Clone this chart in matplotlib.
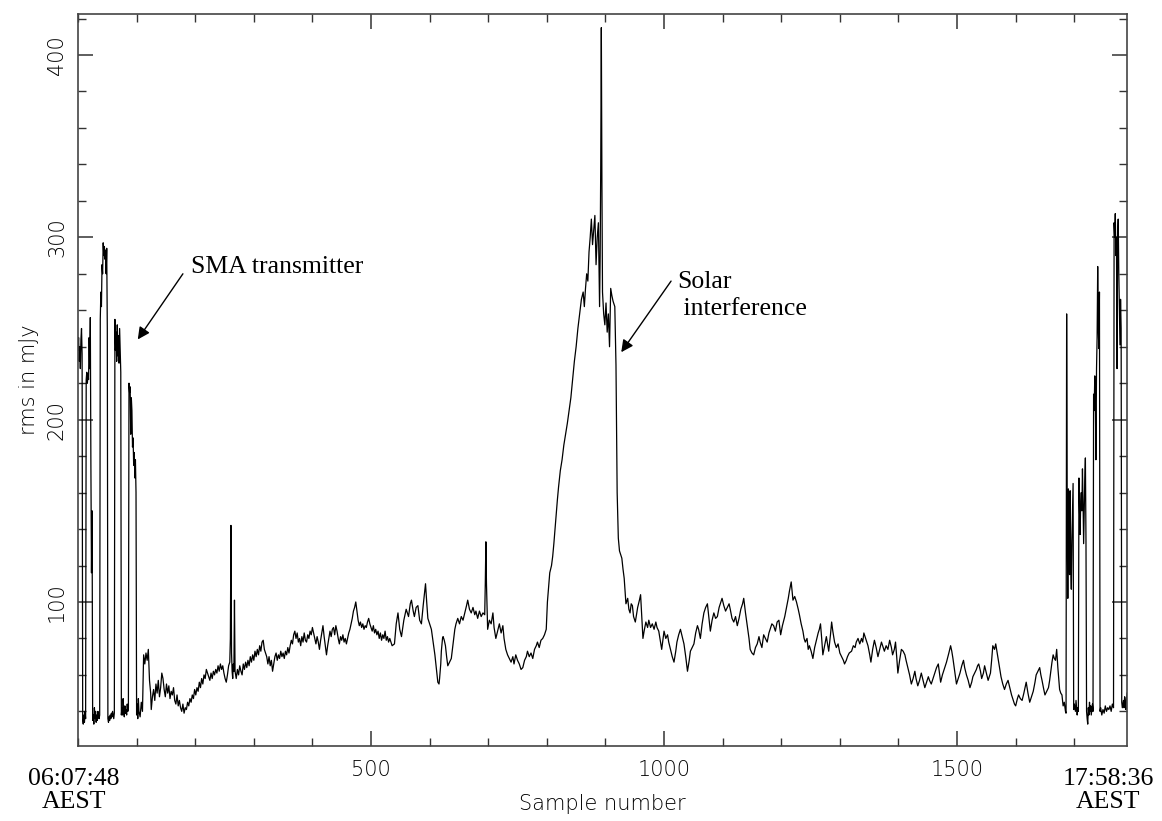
import matplotlib
matplotlib.use("Agg")
from matplotlib import pyplot as plt
from matplotlib.ticker import MultipleLocator
import numpy as np

# (sample, rms in mJy), segment by segment
sma_start = [
    (0, 238), (1, 245), (2, 232), (3, 240), (4, 228), (5, 244), (6, 250), (7, 236),
    (8, 35), (9, 33), (10, 38), (11, 34), (12, 40), (13, 36),
    (14, 222), (15, 226), (16, 220), (17, 225), (18, 222), (19, 245), (20, 228),
    (21, 256), (22, 175), (23, 116), (24, 150),
    (25, 35), (26, 38), (27, 33), (28, 42), (29, 36), (30, 40), (31, 34), (32, 38),
    (33, 35), (34, 40), (35, 37), (36, 36), (37, 38),
    (38, 255), (39, 270), (40, 262), (41, 285), (42, 280), (43, 297), (44, 290),
    (45, 295), (46, 288), (47, 293), (48, 280), (49, 294), (50, 250),
    (51, 36), (52, 34), (53, 37), (54, 35), (55, 38), (56, 36), (57, 39), (58, 37),
    (59, 40), (60, 38), (61, 36), (62, 39),
    (63, 255), (64, 238), (65, 248), (66, 232), (67, 252), (68, 235), (69, 246),
    (70, 231), (71, 250), (72, 238), (73, 226),
    (74, 38), (75, 42), (76, 38), (77, 47), (78, 40), (79, 37), (80, 43), (81, 39),
    (82, 41), (83, 38), (84, 44), (85, 40), (86, 42),
    (87, 220), (88, 215), (89, 218), (90, 192), (91, 212), (92, 205), (93, 185),
    (94, 190), (95, 175), (96, 182), (97, 168), (98, 178), (99, 160),
    (100, 38), (101, 44), (102, 36), (103, 47), (104, 40),
]

quiet_early = [
    (106, 37), (108, 45), (110, 40), (112, 71), (114, 66), (116, 72), (118, 68),
    (120, 74), (122, 57), (124, 50), (125, 41), (127, 48), (129, 52), (131, 46),
    (133, 55), (135, 50), (137, 57), (139, 48), (141, 53), (143, 61), (145, 58),
    (147, 52), (149, 48), (151, 55), (153, 50), (155, 54), (157, 47), (159, 51),
    (161, 49), (163, 53), (165, 46), (167, 44), (169, 49), (171, 43), (173, 46),
    (175, 42), (177, 40), (179, 44), (181, 39), (183, 42), (185, 41), (187, 45),
    (189, 43), (191, 47), (193, 45), (195, 49), (197, 47), (199, 52), (201, 49),
    (203, 53), (205, 51), (207, 56), (209, 53), (211, 58), (213, 55), (215, 60),
    (217, 58), (219, 63), (221, 61), (223, 59), (225, 57), (227, 61), (229, 58),
    (231, 62), (233, 60), (235, 63), (237, 61), (239, 65), (241, 62), (243, 66),
    (245, 63), (247, 65), (249, 61), (251, 58), (253, 56), (255, 60), (257, 65),
    (259, 67), (260, 80), (261, 142), (262, 72), (263, 62), (264, 58), (265, 66),
    (266, 62), (267, 101), (268, 62), (270, 58), (272, 63), (274, 60), (276, 65),
    (278, 62), (280, 60), (282, 66), (284, 63), (286, 67), (288, 64), (290, 68),
    (292, 65), (294, 70), (296, 67), (298, 71), (300, 68), (302, 73), (304, 70),
    (306, 74), (308, 71), (310, 76), (312, 73), (314, 78), (316, 79), (318, 74),
    (320, 72), (322, 70), (324, 66), (326, 70), (328, 65), (330, 68), (332, 62),
    (334, 66), (336, 70), (338, 72), (340, 68), (342, 71), (344, 69), (346, 73),
    (348, 70), (350, 72), (352, 69), (354, 73), (356, 71), (358, 75), (360, 72),
    (362, 76), (364, 79), (366, 77), (368, 82), (370, 84), (372, 80), (374, 83),
    (376, 78), (378, 80), (380, 76), (382, 81), (384, 78), (386, 83), (388, 79),
    (390, 78), (392, 82), (394, 80), (396, 84), (398, 82), (400, 86), (402, 83),
    (404, 80), (406, 77), (408, 81), (410, 78), (412, 74), (414, 79), (416, 83),
    (418, 87), (420, 81), (422, 76), (424, 71), (426, 76), (428, 80), (430, 84),
    (432, 81), (434, 85), (436, 86), (438, 82), (440, 87), (442, 84), (444, 80),
    (446, 77), (448, 81), (450, 79), (452, 82), (454, 78), (456, 80), (458, 77),
    (460, 80), (462, 83), (464, 85), (466, 88), (468, 91), (470, 95), (472, 97),
    (474, 100), (476, 95), (478, 90), (480, 87), (482, 89), (484, 86), (486, 88),
    (488, 85), (490, 87), (492, 86), (494, 89), (496, 91), (498, 88), (500, 86),
    (502, 84), (504, 87), (506, 83), (508, 85), (510, 82), (512, 84), (514, 80),
    (516, 83), (518, 79), (520, 82), (522, 80), (524, 84), (526, 79), (528, 81),
    (530, 78), (532, 80), (536, 76), (540, 77), (543, 88), (546, 94), (549, 85),
    (552, 81), (556, 90), (560, 96), (564, 92), (567, 99), (569, 101), (572, 95),
    (574, 92), (577, 97), (580, 98), (583, 90), (586, 88), (589, 98), (591, 104),
    (593, 110), (595, 100), (597, 91), (600, 88), (603, 85), (606, 78), (609, 71),
    (611, 65), (614, 56), (616, 55), (617, 58), (619, 66), (620, 73), (622, 80),
    (623, 81), (625, 79), (627, 76), (629, 70), (631, 65), (634, 67), (637, 69),
    (640, 77), (643, 85), (645, 88), (648, 91), (651, 88), (654, 92), (657, 90),
    (660, 94), (663, 98), (665, 101), (668, 96), (671, 94), (674, 97), (677, 93),
    (679, 95), (682, 91), (685, 95), (688, 92), (691, 94), (694, 93), (695, 110),
    (696, 133), (697, 110), (699, 85), (702, 90), (705, 88), (708, 94), (710, 86),
    (713, 80), (716, 84), (719, 88), (722, 83), (725, 87), (727, 80), (730, 74),
    (733, 71), (736, 69), (739, 67), (742, 70), (744, 66), (747, 71), (750, 68),
    (753, 66), (756, 63), (759, 64), (762, 68), (765, 70), (767, 73), (770, 70),
    (773, 72), (776, 69), (779, 74), (782, 76), (784, 78), (787, 75), (790, 79),
    (793, 80), (796, 82), (799, 85),
]

solar = [
    (801, 100), (803, 108), (805, 116), (808, 120), (810, 125), (812, 132),
    (814, 140), (816, 148), (818, 156), (820, 163), (823, 172), (826, 178),
    (829, 186), (832, 192), (835, 198), (838, 205), (841, 212), (844, 222),
    (847, 232), (850, 240), (853, 250), (856, 258), (859, 266), (862, 270),
    (864, 262), (866, 272), (868, 280), (870, 276), (872, 292), (874, 300),
    (876, 310), (878, 296), (880, 304), (882, 312), (884, 285), (886, 300),
    (888, 308), (890, 262), (891, 290), (892, 340), (893, 415), (894, 330),
    (895, 270), (897, 258), (899, 252), (901, 264), (903, 248), (905, 258),
    (907, 240), (909, 272), (911, 268), (913, 265), (916, 262), (918, 230),
    (920, 160), (922, 135), (924, 128), (926, 126), (928, 124), (930, 118),
    (932, 113), (934, 104), (935, 99),
]

quiet_late = [
    (938, 102), (940, 96), (942, 94), (944, 99), (946, 98), (948, 92), (951, 89),
    (953, 93), (955, 97), (958, 101), (960, 104), (962, 92), (964, 80), (966, 84),
    (969, 89), (972, 86), (974, 90), (977, 86), (980, 88), (983, 85), (986, 89),
    (988, 86), (991, 84), (993, 80), (996, 74), (998, 79), (1000, 84), (1003, 80),
    (1006, 82), (1008, 78), (1011, 74), (1014, 70), (1017, 67), (1020, 73),
    (1022, 78), (1025, 82), (1028, 85), (1031, 81), (1034, 77), (1037, 70),
    (1040, 62), (1043, 68), (1045, 73), (1048, 75), (1051, 77), (1054, 83),
    (1057, 87), (1059, 85), (1062, 80), (1065, 88), (1068, 94), (1071, 97),
    (1074, 99), (1077, 90), (1079, 84), (1082, 90), (1085, 94), (1088, 91),
    (1091, 92), (1094, 97), (1097, 100), (1099, 102), (1102, 98), (1105, 95),
    (1108, 97), (1111, 99), (1113, 96), (1116, 91), (1119, 89), (1122, 92),
    (1125, 87), (1128, 91), (1131, 96), (1134, 99), (1136, 102), (1139, 94),
    (1142, 87), (1145, 80), (1147, 74), (1150, 72), (1153, 71), (1156, 75),
    (1159, 77), (1162, 81), (1164, 78), (1167, 75), (1170, 82), (1173, 80),
    (1176, 78), (1179, 83), (1181, 85), (1184, 88), (1187, 87), (1190, 84),
    (1193, 89), (1196, 90), (1199, 82), (1202, 87), (1206, 92), (1209, 97),
    (1212, 102), (1214, 106), (1217, 111), (1219, 104), (1220, 101), (1223, 103),
    (1226, 100), (1229, 96), (1231, 93), (1234, 88), (1237, 84), (1239, 80),
    (1241, 78), (1244, 80), (1246, 74), (1248, 76), (1251, 73), (1254, 69),
    (1257, 75), (1260, 79), (1263, 83), (1265, 85), (1267, 88), (1269, 80),
    (1271, 71), (1274, 76), (1277, 81), (1279, 77), (1281, 73), (1284, 82),
    (1286, 89), (1288, 84), (1291, 78), (1294, 75), (1297, 77), (1300, 72),
    (1303, 70), (1306, 68), (1308, 66), (1311, 68), (1313, 70), (1316, 72),
    (1320, 73), (1323, 76), (1326, 75), (1328, 78), (1331, 80), (1334, 77),
    (1337, 80), (1339, 78), (1341, 83), (1344, 80), (1346, 78), (1348, 76),
    (1351, 71), (1353, 67), (1356, 74), (1359, 79), (1362, 75), (1365, 70),
    (1368, 74), (1371, 78), (1374, 75), (1376, 73), (1379, 76), (1382, 74),
    (1385, 79), (1388, 75), (1390, 71), (1393, 74), (1395, 78), (1397, 70),
    (1399, 61), (1402, 68), (1405, 74), (1408, 73), (1411, 71), (1413, 68),
    (1416, 64), (1419, 60), (1422, 55), (1425, 58), (1428, 62), (1430, 58),
    (1433, 54), (1436, 57), (1439, 61), (1442, 57), (1445, 53), (1448, 56),
    (1451, 59), (1453, 57), (1456, 55), (1459, 58), (1462, 61), (1465, 64),
    (1468, 66), (1470, 61), (1472, 56), (1475, 60), (1479, 64), (1482, 67),
    (1486, 72), (1489, 76), (1491, 73), (1493, 69), (1496, 62), (1499, 55),
    (1502, 58), (1505, 61), (1508, 65), (1511, 68), (1513, 64), (1516, 60),
    (1519, 57), (1522, 53), (1525, 56), (1527, 59), (1530, 61), (1533, 63),
    (1535, 65), (1537, 66), (1540, 62), (1542, 58), (1545, 61), (1547, 65),
    (1550, 61), (1553, 57), (1555, 59), (1557, 61), (1559, 68), (1561, 76),
    (1564, 74), (1566, 77), (1568, 73), (1570, 69), (1573, 63), (1575, 59),
    (1578, 55), (1581, 52), (1584, 55), (1587, 57), (1590, 53), (1593, 49),
    (1596, 46), (1598, 44), (1600, 43), (1603, 47), (1605, 49), (1608, 47),
    (1611, 46), (1614, 50), (1616, 53), (1618, 56), (1621, 50), (1624, 45),
    (1627, 48), (1630, 51), (1633, 56), (1635, 60), (1638, 62), (1641, 64),
    (1643, 60), (1645, 57), (1648, 52), (1650, 49), (1653, 51), (1656, 53),
    (1658, 57), (1660, 62), (1662, 67), (1664, 71), (1666, 69), (1668, 68),
    (1670, 74), (1672, 64), (1674, 56), (1675, 52), (1677, 50), (1679, 49),
    (1681, 43), (1683, 45), (1685, 40), (1686, 39),
]

sma_end = [
    (1687, 258), (1688, 150), (1689, 102), (1690, 162), (1691, 130), (1692, 115),
    (1693, 161), (1694, 120), (1695, 107), (1696, 134), (1697, 150), (1698, 165),
    (1699, 41), (1700, 44), (1702, 40), (1703, 46), (1705, 38), (1706, 42),
    (1707, 40), (1708, 168), (1709, 150), (1710, 137), (1711, 155), (1712, 160),
    (1713, 150), (1714, 173), (1715, 155), (1716, 132), (1717, 150), (1718, 167),
    (1719, 179), (1720, 134), (1721, 40), (1722, 36), (1723, 33), (1724, 42),
    (1725, 38), (1726, 45), (1727, 40), (1728, 43), (1729, 38), (1730, 41),
    (1731, 44), (1732, 40), (1733, 214), (1734, 205), (1735, 224), (1736, 210),
    (1737, 178), (1738, 228), (1739, 245), (1740, 284), (1741, 250), (1742, 239),
    (1743, 270), (1744, 40), (1745, 42), (1747, 38), (1749, 41), (1751, 39),
    (1753, 43), (1755, 40), (1757, 42), (1759, 41), (1761, 43), (1763, 40),
    (1765, 44), (1767, 42), (1768, 308), (1769, 300), (1770, 313), (1771, 290),
    (1772, 300), (1773, 228), (1774, 300), (1775, 310), (1776, 281), (1777, 260),
    (1778, 241), (1779, 266), (1780, 250), (1781, 45), (1782, 42), (1784, 46),
    (1785, 42), (1786, 48), (1787, 44), (1788, 41), (1789, 47), (1790, 50),
]

x_major = [500, 1000, 1500]
y_major = [100, 200, 300, 400]
start_label = "06:07:48\nAEST"
end_label = "17:58:36\nAEST"

pts = np.array(sma_start + quiet_early + solar + quiet_late + sma_end, dtype=float)
sample, rms = pts[:, 0], pts[:, 1]

fig = plt.figure(figsize=(11.62, 8.21), dpi=100)
ax = fig.add_axes([78 / 1162, 1 - 746 / 821, (1127 - 78) / 1162, (746 - 14) / 821])

ax.plot(sample, rms, color='black', lw=0.9)
ax.set_xlim(0, 1790)
ax.set_ylim(21, 422.5)

ax.xaxis.set_ticks(x_major)
ax.yaxis.set_ticks(y_major)
ax.xaxis.set_minor_locator(MultipleLocator(100))
ax.yaxis.set_minor_locator(MultipleLocator(20))
ax.tick_params(which='both', direction='in', top=True, right=True, color='#333333')
ax.tick_params(which='major', length=11, width=1.1)
ax.tick_params(which='minor', length=6, width=1.0)
ax.tick_params(axis='x', labelsize=15, pad=10)
ax.tick_params(axis='y', labelsize=15, pad=8)
for lbl in ax.get_yticklabels():
    lbl.set_rotation(90)
    lbl.set_va('center')
for lbl in ax.get_xticklabels() + ax.get_yticklabels():
    lbl.set_fontweight('light')
for sp in ax.spines.values():
    sp.set_color('#444444')
    sp.set_linewidth(1.2)

ax.set_xlabel("Sample number", fontsize=15, fontweight='light', labelpad=10)
ax.set_ylabel("rms in mJy", fontsize=15, fontweight='light', labelpad=6)

serif = dict(family='Liberation Serif', fontsize=18.5)
fig.text(74 / 1162, 1 - 768 / 821, start_label, ha='center', va='top',
         linespacing=1.05, **serif)
fig.text(1108 / 1162, 1 - 768 / 821, end_label, ha='center', va='top',
         linespacing=1.05, **serif)

arrow = dict(arrowstyle='-|>', color='black', lw=1.0, mutation_scale=18,
             shrinkA=0, shrinkB=0)
ax.text(193, 284, "SMA transmitter", ha='left', va='center', **serif)
ax.annotate("", xy=(102, 244), xytext=(179, 280), arrowprops=arrow)
ax.text(1022, 268, "Solar\n interference", ha='left', va='center',
        linespacing=1.3, **serif)
ax.annotate("", xy=(927, 237), xytext=(1012, 276), arrowprops=arrow)

fig.savefig("out.png", dpi=100)
